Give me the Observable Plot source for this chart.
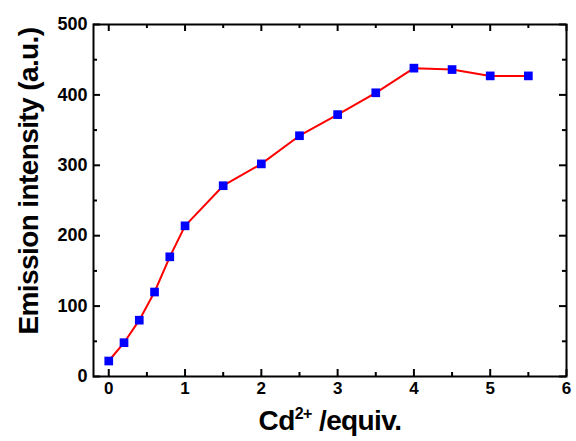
<!DOCTYPE html>
<html>
<head>
<meta charset="utf-8">
<script src="https://cdn.jsdelivr.net/npm/d3@7"></script>
<script src="https://cdn.jsdelivr.net/npm/@observablehq/plot@0.6"></script>
<style>
  html, body { margin: 0; padding: 0; background: #fff; }
  svg { display: block; }
</style>
</head>
<body>
<div id="chart"></div>
<script>
const equiv = [0, 0.2, 0.4, 0.6, 0.8, 1, 1.5, 2, 2.5, 3, 3.5, 4, 4.5, 5, 5.5];
const intensity = [22, 48, 80, 120, 170, 214, 271, 302, 342, 372, 403, 438, 436, 427, 427];
const xMajor = [0, 1, 2, 3, 4, 5, 6];
const xMinor = [0.5, 1.5, 2.5, 3.5, 4.5, 5.5];
const yMajor = [0, 100, 200, 300, 400, 500];
const yMinor = [50, 150, 250, 350, 450];
const xLabelMain = "Cd";
const xLabelSup = "2+";
const xLabelRest = " /equiv.";
const yLabel = "Emission intensity (a.u.)";

const data = equiv.map((x, i) => ({x, y: intensity[i]}));
const font = "'Liberation Sans', Arial, sans-serif";

const W = 576, H = 441, ML = 93, MR = 10, MT = 24, MB = 65;
const innerW = W - ML - MR, innerH = H - MT - MB;
const MAJ = 7, MIN = 4;

const tickMarks = [];
for (const [ticks, len] of [[xMajor, MAJ], [xMinor, MIN]]) {
  tickMarks.push(Plot.ruleX(ticks, {x: d => d, insetTop: innerH - len, stroke: "#000", strokeWidth: 2}));
  tickMarks.push(Plot.ruleX(ticks, {x: d => d, insetBottom: innerH - len, stroke: "#000", strokeWidth: 2}));
}
for (const [ticks, len] of [[yMajor, MAJ], [yMinor, MIN]]) {
  tickMarks.push(Plot.ruleY(ticks, {y: d => d, insetRight: innerW - len, stroke: "#000", strokeWidth: 2}));
  tickMarks.push(Plot.ruleY(ticks, {y: d => d, insetLeft: innerW - len, stroke: "#000", strokeWidth: 2}));
}

const svg = Plot.plot({
  width: W,
  height: H,
  marginLeft: ML,
  marginRight: MR,
  marginTop: MT,
  marginBottom: MB,
  style: {fontFamily: font, background: "#fff", color: "#000"},
  x: {domain: [-0.2, 6]},
  y: {domain: [0, 500]},
  marks: [
    ...tickMarks,
    Plot.axisX({anchor: "bottom", ticks: xMajor, tickSize: 0, tickPadding: 5, fontSize: 17, fontWeight: "bold", label: null, tickFormat: d => String(d)}),
    Plot.axisY({anchor: "left", ticks: yMajor, tickSize: 0, tickPadding: 6, fontSize: 18, fontWeight: "bold", label: null, tickFormat: d => String(d)}),
    Plot.line(data, {x: "x", y: "y", stroke: "#ff0000", strokeWidth: 2}),
    Plot.dot(data, {x: "x", y: "y", symbol: "square", r: 4.9, fill: "#0000ff", stroke: "none"}),
    Plot.frame({stroke: "#000", strokeWidth: 2})
  ]
});

const s = d3.select(svg);
const xl = s.append("text")
  .attr("x", 330).attr("y", 430)
  .attr("text-anchor", "middle")
  .attr("font-family", font).attr("font-weight", "bold")
  .attr("font-size", 28).attr("letter-spacing", -0.6)
  .attr("fill", "#000");
xl.append("tspan").text(xLabelMain);
xl.append("tspan").attr("font-size", 16).attr("dy", -11).text(xLabelSup);
xl.append("tspan").attr("dy", 11).text(xLabelRest);

s.append("text")
  .attr("transform", "translate(38,181) rotate(-90)")
  .attr("text-anchor", "middle")
  .attr("font-family", font).attr("font-weight", "bold")
  .attr("font-size", 28).attr("letter-spacing", -0.6)
  .attr("fill", "#000")
  .text(yLabel);

document.getElementById("chart").appendChild(svg);
</script>
</body>
</html>
